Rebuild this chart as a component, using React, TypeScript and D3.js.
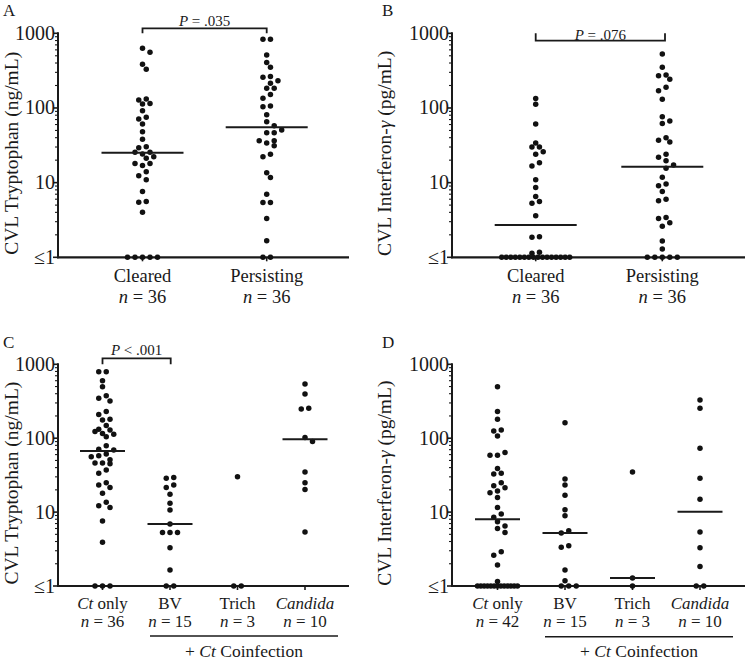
import React from "react";
import * as d3 from "d3";

// ---------- data ----------
const topCategories = ["Cleared", "Persisting"];
const topN = [36, 36];
const bottomCategories = ["Ct only", "BV", "Trich", "Candida"];
const cN = [36, 15, 3, 10];
const dN = [42, 15, 3, 10];
const yTickValues = [1, 10, 100, 1000];
const yTickLabels = ["≤1", "10", "100", "1000"];

const aCleared = [630, 556, 384, 330, 132, 128, 115, 113, 92, 75, 71, 61, 48, 38, 30.3, 29.4, 25.5, 25.5, 24.2, 22.2, 21.2, 18, 18, 17, 14, 12.4, 10.9, 7.6, 5.6, 5.45, 4, 1, 1, 1, 1, 1];
const aPersisting = [830, 830, 512, 405, 350, 257, 263, 214, 232, 183, 183, 152, 135, 104, 106, 81, 65.5, 57.8, 50.7, 46.7, 46.7, 36.5, 34, 36.5, 31.2, 22.2, 24, 13.6, 11.7, 7, 5.4, 5.4, 3.3, 1.66, 1, 1];
const aMedians = [25.2, 55];

const bCleared = [134, 112, 61, 30, 34, 30, 26, 24, 18.5, 16.7, 10.9, 8.6, 6.5, 5.3, 5.6, 3.6, 1.89, 1.85, 1.13, 1.17, 1, 1, 1, 1, 1, 1, 1, 1, 1, 1, 1, 1, 1, 1, 1, 1];
const bPersisting = [528, 351, 276, 242, 270, 189, 170, 131, 67, 62, 76, 40, 35, 37, 24, 19.7, 21.8, 17.2, 15.6, 11.8, 9.6, 9.1, 7.6, 6.0, 5.7, 3.4, 2.9, 3.3, 2.6, 1.65, 1.29, 1, 1, 1, 1, 1];
const bMedians = [2.71, 16.3];

const cCtOnly = [795, 795, 601, 498, 347, 319, 376, 210, 229, 176, 180, 148, 129, 116, 105, 113, 123, 132, 79, 69, 71, 58, 61, 56, 51, 46, 45, 46, 33.5, 37, 25, 21.6, 23.3, 18, 12.2, 11.5, 13.6, 7.6, 3.9, 1, 1, 1];
const cBV = [28.7, 29.3, 23.3, 21.6, 17.4, 13.2, 10.7, 6.9, 5.3, 5.3, 5.3, 3.3, 1.65, 1, 1];
const cTrich = [30, 1, 1];
const cCandida = [541, 396, 248, 254, 102, 90, 35, 25, 20.3, 5.4];
const cMedians: (number | null)[] = [67, 6.9, null, 97];

const dCtOnly = [498, 229, 180, 129, 125, 107, 59, 59, 64, 39, 32.8, 33.5, 22.8, 21.4, 25, 19.3, 18.3, 15.8, 11.5, 9.4, 8.5, 7.4, 6.0, 6.5, 5.3, 2.6, 2.9, 1.92, 1.15, 1, 1, 1, 1, 1, 1, 1, 1, 1, 1, 1, 1, 1];
const dBV = [162, 28, 23.3, 16.9, 10.8, 8.95, 5.6, 5.2, 3.34, 3.5, 1.65, 1.18, 1, 1, 1];
const dTrich = [35, 1.28, 1];
const dCandida = [329, 254, 73, 28.7, 14.9, 5.4, 3.3, 1.83, 1, 1];
const dMedians: (number | null)[] = [8.0, 5.2, 1.28, 10.1];

const pTexts = ["= .035", "= .076", "< .001"];

// ---------- helpers ----------
const serif = "'Liberation Serif', 'DejaVu Serif', serif";
const ITALIC_WORDS = new Set(["Ct", "Candida"]);

function Words({ text }: { text: string }) {
  const parts = text.split(" ");
  return (
    <>
      {parts.map((w, i) => (
        <tspan key={i} fontStyle={ITALIC_WORDS.has(w) ? "italic" : "normal"}>
          {w + (i < parts.length - 1 ? " " : "")}
        </tspan>
      ))}
    </>
  );
}

type Pt = { v: number; y: number; x: number };

function swarm(values: number[], y: (v: number) => number, cx: number, step: number, maxW: number, rowH = 4, minDist = 5.8): Pt[] {
  const pts: Pt[] = values.map((v) => ({ v, y: y(Math.max(1, v)), x: cx }));
  pts.sort((a, b) => a.y - b.y);
  const rows: Pt[][] = [];
  let cur: Pt[] = [];
  for (const p of pts) {
    if (cur.length && p.y - cur[0].y > rowH) {
      rows.push(cur);
      cur = [];
    }
    cur.push(p);
  }
  if (cur.length) rows.push(cur);
  const placed: Pt[] = [];
  for (const row of rows) {
    const k = row.length;
    const sp = k > 1 ? Math.min(step, maxW / (k - 1)) : step;
    const offs = d3.range(k).map((i) => (i - (k - 1) / 2) * sp);
    const order = offs.slice().sort((a, b) => Math.abs(a) - Math.abs(b) || a - b);
    const byVal = row.slice().sort((a, b) => b.y - a.y);
    const shifts = sp < step ? [0] : [0, step / 2, -step / 2, step, -step];
    let best = 0;
    let bestScore = -Infinity;
    for (const s of shifts) {
      let mind = Infinity;
      byVal.forEach((p, i) => {
        const x = cx + order[i] + s;
        for (const q of placed) {
          const dd = Math.hypot(q.x - x, q.y - p.y);
          if (dd < mind) mind = dd;
        }
      });
      if (mind >= minDist) {
        best = s;
        break;
      }
      if (mind > bestScore) {
        bestScore = mind;
        best = s;
      }
    }
    byVal.forEach((p, i) => {
      p.x = cx + order[i] + best;
      placed.push(p);
    });
  }
  return pts;
}

type PanelProps = {
  letter: string;
  letterX: number;
  letterY: number;
  title: React.ReactNode;
  titleX: number;
  axisX: number;
  xEnd: number;
  yTop: number;
  yBottom: number;
  centers: number[];
  groups: number[][];
  medians: (number | null)[];
  medianHalf: number;
  maxW: number;
  catLabels: string[];
  nLabels: number[];
  labelSize: number;
  catY: number;
  nY: number;
  p?: { text: string; barY: number; textY: number; from: number; to: number; fromX?: number; toX?: number };
  coinfection?: { lineY: number; textY: number };
};

function Panel(props: PanelProps) {
  const { axisX, xEnd, yTop, yBottom, centers } = props;
  const y = d3.scaleLog().domain([1, 1000]).range([yBottom, yTop]);
  const minor: number[] = [];
  for (const dec of [1, 10, 100]) for (let k = 2; k <= 9; k++) minor.push(dec * k);
  const titleY = (yTop + yBottom) / 2 + 8;
  return (
    <g fontFamily={serif} fill="#1a1a1a">
      <text x={props.letterX} y={props.letterY} fontSize={17}>{props.letter}</text>
      <text transform={`translate(${props.titleX},${titleY}) rotate(-90)`} textAnchor="middle" fontSize={19.5}>
        {props.title}
      </text>
      {/* axes */}
      <line x1={axisX} x2={axisX} y1={yTop - 1} y2={yBottom + 1} stroke="#1a1a1a" strokeWidth={2} />
      <line x1={axisX - 1} x2={xEnd} y1={yBottom} y2={yBottom} stroke="#1a1a1a" strokeWidth={2.2} />
      {yTickValues.map((t) => (
        <line key={"M" + t} x1={axisX - 5} x2={axisX} y1={y(t)} y2={y(t)} stroke="#1a1a1a" strokeWidth={1.6} />
      ))}
      {minor.map((t) => (
        <line key={"m" + t} x1={axisX - 3} x2={axisX} y1={y(t)} y2={y(t)} stroke="#1a1a1a" strokeWidth={1.1} />
      ))}
      {yTickValues.map((t, i) => (
        <text key={"L" + t} x={axisX - 3} y={y(t) + 6.5} textAnchor="end" fontSize={20}>
          {yTickLabels[i]}
        </text>
      ))}
      {centers.map((c, i) => (
        <line key={"ct" + i} x1={c} x2={c} y1={yBottom} y2={yBottom + 4} stroke="#1a1a1a" strokeWidth={1.6} />
      ))}
      {/* dots */}
      {props.groups.map((vals, gi) =>
        swarm(vals, y, centers[gi], 7.5, props.maxW).map((p, i) => (
          <circle key={gi + "-" + i} cx={p.x} cy={p.y} r={2.75} fill="#111" />
        ))
      )}
      {/* medians */}
      {props.medians.map((m, i) =>
        m == null ? null : (
          <line key={"med" + i} x1={centers[i] - props.medianHalf} x2={centers[i] + props.medianHalf} y1={y(m)} y2={y(m)} stroke="#1a1a1a" strokeWidth={2} />
        )
      )}
      {/* category labels */}
      {props.catLabels.map((c, i) => (
        <text key={"cat" + i} x={centers[i]} y={props.catY} textAnchor="middle" fontSize={props.labelSize}>
          <Words text={c} />
        </text>
      ))}
      {props.nLabels.map((n, i) => (
        <text key={"n" + i} x={centers[i]} y={props.nY} textAnchor="middle" fontSize={props.labelSize}>
          <tspan fontStyle="italic">n</tspan> = {n}
        </text>
      ))}
      {props.p && (() => {
        const p = props.p!;
        const x1 = p.fromX ?? centers[p.from];
        const x2 = p.toX ?? centers[p.to];
        return (
          <g>
            <path d={`M${x1},${yTop}V${p.barY}H${x2}V${yTop}`} fill="none" stroke="#1a1a1a" strokeWidth={1.8} />
            <text x={(x1 + x2) / 2} y={p.textY} textAnchor="middle" fontSize={15}>
              <tspan fontStyle="italic">P</tspan> {p.text}
            </text>
          </g>
        );
      })()}
      {props.coinfection && (
        <g>
          <line x1={centers[1] - 20} x2={centers[3] + 33} y1={props.coinfection.lineY} y2={props.coinfection.lineY} stroke="#1a1a1a" strokeWidth={1.4} />
          <text x={(centers[1] - 20 + centers[3] + 33) / 2} y={props.coinfection.textY} textAnchor="middle" fontSize={17.5}>
            + <tspan fontStyle="italic">Ct</tspan> Coinfection
          </text>
        </g>
      )}
    </g>
  );
}

export default function App() {
  const trp = <>CVL Tryptophan (ng/mL)</>;
  const ifn = (
    <>
      CVL Interferon-<tspan fontStyle="italic">γ</tspan> (pg/mL)
    </>
  );
  return (
    <svg width={747} height={662} style={{ position: "absolute", left: 0, top: 0, background: "#fff" }}>
      <rect width={747} height={662} fill="#fff" />
      <Panel
        letter="A" letterX={3} letterY={16} title={trp} titleX={17.5}
        axisX={58} xEnd={349} yTop={33.3} yBottom={257.3}
        centers={[142.5, 266.7]} groups={[aCleared, aPersisting]} medians={aMedians}
        medianHalf={41} maxW={68} catLabels={topCategories} nLabels={topN}
        labelSize={18.5} catY={282} nY={303}
        p={{ text: pTexts[0], barY: 28.3, textY: 25.5, from: 0, to: 1 }}
      />
      <Panel
        letter="B" letterX={382} letterY={16} title={ifn} titleX={391}
        axisX={452} xEnd={745} yTop={33.3} yBottom={257.3}
        centers={[535.7, 662.3]} groups={[bCleared, bPersisting]} medians={bMedians}
        medianHalf={41} maxW={68} catLabels={topCategories} nLabels={topN}
        labelSize={18.5} catY={282} nY={303}
        p={{ text: pTexts[1], barY: 40.7, textY: 39.5, from: 0, to: 1, toX: 665 }}
      />
      <Panel
        letter="C" letterX={3} letterY={348} title={trp} titleX={17.5}
        axisX={58} xEnd={349} yTop={364.3} yBottom={586}
        centers={[102.5, 170, 237.5, 305]} groups={[cCtOnly, cBV, cTrich, cCandida]} medians={cMedians}
        medianHalf={22.5} maxW={40} catLabels={bottomCategories} nLabels={cN}
        labelSize={17} catY={609} nY={627}
        p={{ text: pTexts[2], barY: 358.3, textY: 355, from: 0, to: 1, toX: 170.7 }}
        coinfection={{ lineY: 636, textY: 657 }}
      />
      <Panel
        letter="D" letterX={382} letterY={348} title={ifn} titleX={391}
        axisX={452} xEnd={745} yTop={364.3} yBottom={586}
        centers={[497.5, 565, 632.5, 700]} groups={[dCtOnly, dBV, dTrich, dCandida]} medians={dMedians}
        medianHalf={22.5} maxW={40} catLabels={bottomCategories} nLabels={dN}
        labelSize={17} catY={609} nY={627}
        coinfection={{ lineY: 636.7, textY: 657 }}
      />
    </svg>
  );
}
